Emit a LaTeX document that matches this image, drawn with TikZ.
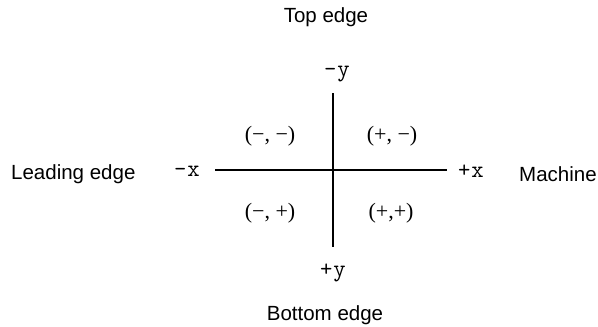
\documentclass[tikz,border=0pt]{standalone}
\usepackage{fontspec}
\setmainfont{Liberation Sans}
\newfontfamily\quadfont{Liberation Serif}
\begin{document}
\begin{tikzpicture}[x=1pt,y=-1pt,
  edgelabel/.style={font=\fontsize{20.5}{24}\selectfont, inner sep=0pt},
  axislabel/.style={font=\ttfamily\fontsize{24}{26}\selectfont, inner sep=0pt},
  quadlabel/.style={font=\quadfont\fontsize{22}{24}\selectfont, inner sep=0pt},
  axisline/.style={line width=1.5pt}]
\useasboundingbox (0,0) rectangle (598,327);
\coordinate (xl) at (215,170);
\coordinate (xr) at (447,170);
\coordinate (yt) at (333,93);
\coordinate (yb) at (333,247);
\draw[axisline] (xl) -- (xr);
\draw[axisline] (yt) -- (yb);
\node[axislabel] (mx) at (187,171) {-\kern1pt x};
\node[axislabel] (px) at (471,171) {+\kern1pt x};
\node[axislabel] (my) at (337,74) {-\kern1pt y};
\node[axislabel] (py) at (333,273) {+\kern1pt y};
\node[quadlabel] (q1) at (270,136) {(−, −)};
\node[quadlabel] (q2) at (392,136) {(+, −)};
\node[quadlabel] (q3) at (270,213) {(−, +)};
\node[quadlabel] (q4) at (391,213) {(+,+)};
\node[edgelabel] (top) at (326,17) {Top edge};
\node[edgelabel] (bot) at (325,315) {Bottom edge};
\node[edgelabel, anchor=west] (lead) at (11,174) {Leading edge};
\node[edgelabel, anchor=west] (mach) at (519,174) {Machine};
\end{tikzpicture}
\end{document}
